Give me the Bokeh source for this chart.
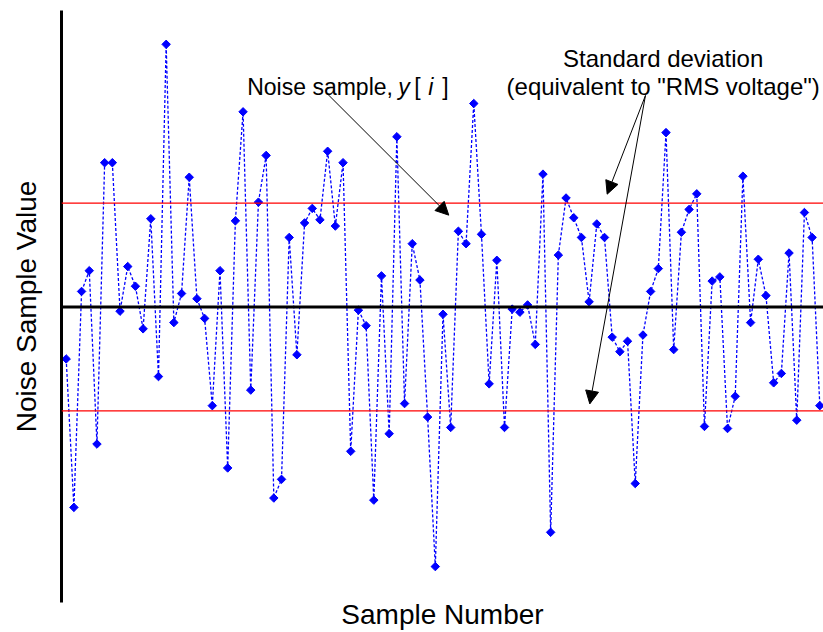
from bokeh.plotting import figure
from bokeh.models import Range1d, Span, Arrow, NormalHead, Label, FixedTicker
from bokeh.embed import file_html
from bokeh.resources import INLINE

# Noise samples y[i], expressed in units of the standard deviation
sample_index = list(range(99))
sample_value = [-0.50, -1.93, 0.15, 0.35, -1.32, 1.39, 1.39, -0.04, 0.39, 0.20,
                -0.21, 0.85, -0.67, 2.53, -0.15, 0.13, 1.25, 0.08, -0.11, -0.95,
                0.35, -1.55, 0.83, 1.88, -0.80, 1.01, 1.46, -1.84, -1.66, 0.67,
                -0.46, 0.81, 0.95, 0.84, 1.50, 0.78, 1.39, -1.39, -0.03, -0.18,
                -1.86, 0.30, -1.22, 1.64, -0.93, 0.61, 0.26, -1.06, -2.50, -0.07,
                -1.16, 0.73, 0.61, 1.96, 0.70, -0.74, 0.45, -1.16, -0.02, -0.05,
                0.02, -0.36, 1.28, -2.17, 0.50, 1.05, 0.86, 0.67, 0.05, 0.80,
                0.67, -0.29, -0.43, -0.33, -1.70, -0.27, 0.15, 0.37, 1.68, -0.41,
                0.72, 0.94, 1.09, -1.15, 0.25, 0.29, -1.17, -0.86, 1.26, -0.15,
                0.46, 0.11, -0.73, -0.64, 0.52, -1.09, 0.91, 0.67, -0.95]
mean_level = 0.0
std_dev = 1.0

FONT = "Liberation Sans"

p = figure(width=823, height=632, output_backend="svg", toolbar_location=None,
           x_range=Range1d(-0.611, 98.48), y_range=Range1d(-2.846, 2.856),
           min_border_left=61, min_border_right=0, min_border_top=10,
           min_border_bottom=29)
p.outline_line_color = None
p.xgrid.visible = False
p.ygrid.visible = False
p.background_fill_color = "white"
p.border_fill_color = "white"

for ax in (p.xaxis, p.yaxis):
    ax.ticker = FixedTicker(ticks=[])
    ax.major_tick_line_color = None
    ax.minor_tick_line_color = None
    ax.major_tick_out = 0
    ax.major_tick_in = 0
    ax.minor_tick_out = 0
    ax.minor_tick_in = 0
    ax.major_label_standoff = 0
    ax.axis_label_text_font = FONT
    ax.axis_label_text_font_style = "normal"
    ax.axis_label_text_font_size = "28px"
    ax.axis_label_text_color = "black"

p.xaxis.axis_line_color = None
p.xaxis.axis_label = "Sample Number"
p.xaxis.axis_label_standoff = -4

p.yaxis.axis_line_color = "black"
p.yaxis.axis_line_width = 3
p.yaxis.axis_label = "Noise Sample Value"
p.yaxis.axis_label_standoff = 20

# reference lines
p.add_layout(Span(location=mean_level, dimension="width", line_color="black", line_width=3))
p.add_layout(Span(location=mean_level + std_dev, dimension="width", line_color="red", line_width=1.2))
p.add_layout(Span(location=mean_level - std_dev, dimension="width", line_color="red", line_width=1.2))

# data
p.line(sample_index, sample_value, line_color="blue", line_width=1.3, line_dash="3 2")
p.scatter(sample_index, sample_value, marker="square", size=6, angle=45, angle_units="deg",
          fill_color="blue", line_color="blue")

# annotations
def lab(x, y, text, xo=0, style="normal", align="left", size="23px"):
    p.add_layout(Label(x=x, y=y, x_offset=xo, text=text, text_font=FONT, text_font_size=size,
                       text_font_style=style, text_align=align, text_baseline="alphabetic",
                       text_color="black"))

nx, ny = 23.54, 2.118
lab(nx, ny, "Noise sample,")
lab(nx, ny, "y", xo=151, style="italic")
lab(nx, ny, "[", xo=167)
lab(nx, ny, "i", xo=181, style="italic")
lab(nx, ny, "]", xo=195)

lab(77.63, 2.391, "Standard deviation", align="center", size="24px")
lab(77.63, 2.125, "(equivalent to \"RMS voltage\")", align="center", size="24px")

def arrow(x0, y0, x1, y1):
    p.add_layout(Arrow(end=NormalHead(size=13, fill_color="black", line_color="black", line_width=1),
                       x_start=x0, y_start=y0, x_end=x1, y_end=y1,
                       line_color="black", line_width=1))

arrow(33.94, 2.055, 49.75, 0.885)
arrow(75.33, 2.038, 70.35, 1.087)
arrow(75.33, 2.038, 68.09, -0.933)

open("out.html", "w").write(file_html(p, INLINE))
